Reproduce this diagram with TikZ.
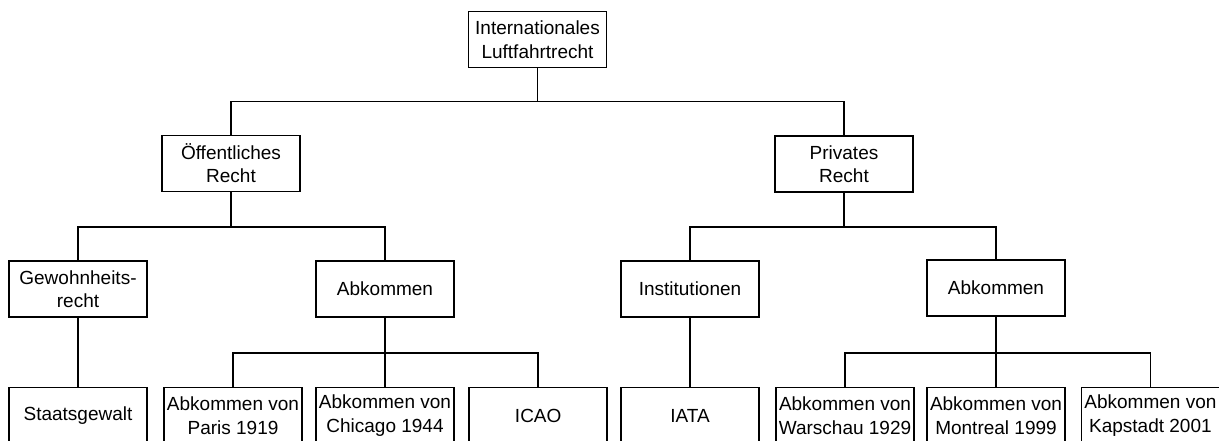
\documentclass[tikz,border=0pt]{standalone}
\usepackage{fontspec}
\setmainfont{Liberation Sans}

\begin{document}
\begin{tikzpicture}[x=1pt, y=-1pt, line width=1.5pt,
		box/.style={draw, rectangle, minimum width=138pt, minimum height=56pt, inner xsep=1pt, inner ysep=2pt, align=center, font=\fontsize{19}{23.5}\selectfont}]
		\useasboundingbox (0,0) rectangle (1219,441);
		\node (0)at(537.5, 39.7)[box]  {Internationales\\Luftfahrtrecht};
		\node (1)at(231, 163.3)[box]  {Öffentliches\\Recht};
		\node (2)at(844, 164)[box]  {Privates\\Recht};
		\node (11)at(78, 289)[box]  {Gewohnheits-\\recht};
		\node (12)at(385, 289)[box]  {Abkommen};
		\node (21)at(690, 289)[box]  {Institutionen};
		\node (22)at(996, 288)[box]  {Abkommen};
		\node (111)at(78, 415.7)[box]  {Staatsgewalt};
		\node (121)at(233, 415.7)[box]  {Abkommen von\\Paris 1919};
		\node (122)at(385, 415.7)[box]  {Abkommen von\\Chicago 1944};
		\node (123)at(538.2, 415.7)[box]  {ICAO};
		\node (211)at(690, 415.7)[box]  {IATA};
		\node (221)at(845, 415.7)[box]  {Abkommen von\\Warschau 1929};
		\node (222)at(996, 415.7)[box]  {Abkommen von\\Montreal 1999};
		\node (223)at(1150.4, 415.7)[box]  {Abkommen von\\Kapstadt 2001};
		\draw (0.south) -- ++(0,33) -| (1.north);
		\draw (0.south) -- ++(0,33) -| (2.north);
		\draw (1.south) -- ++(0,35) -| (11.north);
		\draw (1.south) -- ++(0,35) -| (12.north);
		\draw (2.south) -- ++(0,34) -| (21.north);
		\draw (2.south) -- ++(0,34) -| (22.north);
		\draw (11.south) -- (111.north);
		\draw (12.south) -- ++(0,35) -| (121.north);
		\draw (12.south) -- ++(0,35) -| (122.north);
		\draw (12.south) -- ++(0,35) -| (123.north);
		\draw (21.south) -- (211.north);
		\draw (22.south) -- ++(0,36) -| (221.north);
		\draw (22.south) -- ++(0,36) -| (222.north);
		\draw (22.south) -- ++(0,36) -| (223.north);
	\end{tikzpicture}
\end{document}
